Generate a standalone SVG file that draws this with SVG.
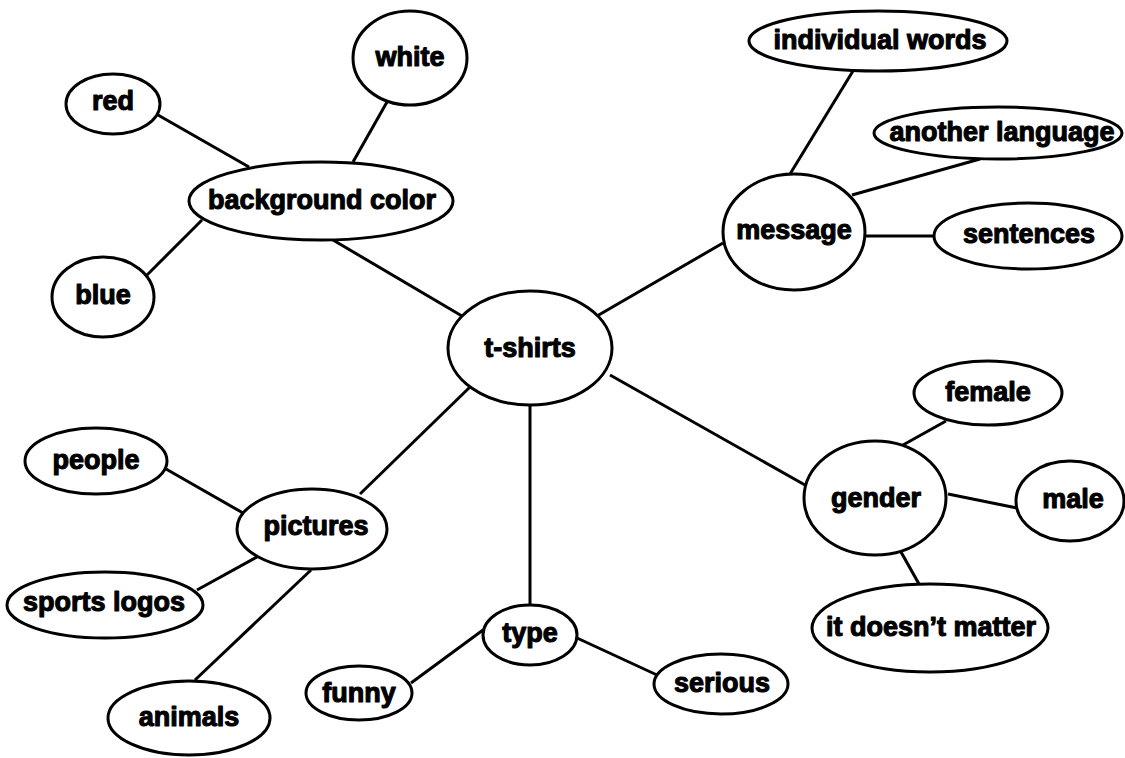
<svg xmlns="http://www.w3.org/2000/svg" width="1125" height="758" viewBox="0 0 1125 758">
<style>
ellipse{fill:#fff;stroke:#000;stroke-width:3}
line{stroke:#000;stroke-width:3}
text{font-family:"Liberation Sans",Arial,sans-serif;font-weight:bold;font-size:27px;text-anchor:middle;fill:#000;stroke:#000;stroke-width:1.1;stroke-linejoin:round}
</style>
<rect width="1125" height="758" fill="#fff"/>
<g id="connectors">
<line x1="158" y1="115" x2="249" y2="167"/>
<line x1="387" y1="102" x2="353" y2="162"/>
<line x1="147" y1="275" x2="202" y2="220"/>
<line x1="333" y1="240" x2="462" y2="316"/>
<line x1="853" y1="71" x2="790" y2="174"/>
<line x1="980" y1="159" x2="852" y2="195"/>
<line x1="865" y1="236" x2="934" y2="236"/>
<line x1="723" y1="243" x2="597" y2="316"/>
<line x1="166" y1="469" x2="243" y2="513"/>
<line x1="197" y1="590" x2="257" y2="557"/>
<line x1="195" y1="680" x2="311" y2="570"/>
<line x1="360" y1="494" x2="470" y2="387"/>
<line x1="530" y1="406" x2="530" y2="605"/>
<line x1="483" y1="630" x2="411" y2="683"/>
<line x1="577" y1="638" x2="657" y2="675"/>
<line x1="946" y1="421" x2="903" y2="445"/>
<line x1="1017" y1="508" x2="948" y2="494"/>
<line x1="919" y1="584" x2="901" y2="552"/>
<line x1="805" y1="485" x2="610" y2="375"/>
</g>
<g id="red"><ellipse cx="113" cy="104" rx="47" ry="30"/><text x="113" y="110">red</text></g>
<g id="white"><ellipse cx="410" cy="58" rx="57" ry="47"/><text x="410" y="66">white</text></g>
<g id="background-color"><ellipse cx="321" cy="201" rx="132" ry="39"/><text x="322" y="209">background color</text></g>
<g id="blue"><ellipse cx="103" cy="297" rx="51" ry="40"/><text x="103" y="304">blue</text></g>
<g id="individual-words"><ellipse cx="878" cy="41" rx="129" ry="30"/><text x="880" y="49">individual words</text></g>
<g id="another-language"><ellipse cx="998" cy="133" rx="124" ry="26"/><text x="1002" y="141">another language</text></g>
<g id="message"><ellipse cx="794" cy="232" rx="71" ry="58"/><text x="794" y="239">message</text></g>
<g id="sentences"><ellipse cx="1028" cy="236" rx="94" ry="33"/><text x="1029" y="243">sentences</text></g>
<g id="t-shirts"><ellipse cx="530" cy="348" rx="82" ry="57"/><text x="530" y="357">t-shirts</text></g>
<g id="people"><ellipse cx="96" cy="461" rx="71" ry="33"/><text x="96" y="469">people</text></g>
<g id="pictures"><ellipse cx="312" cy="529" rx="75" ry="40"/><text x="316" y="535">pictures</text></g>
<g id="sports-logos"><ellipse cx="105" cy="605" rx="98" ry="33"/><text x="104" y="611">sports logos</text></g>
<g id="animals"><ellipse cx="189" cy="718" rx="81" ry="37"/><text x="189" y="726">animals</text></g>
<g id="funny"><ellipse cx="359" cy="693" rx="53" ry="27"/><text x="359" y="702">funny</text></g>
<g id="type"><ellipse cx="530" cy="635" rx="47" ry="30"/><text x="530" y="642">type</text></g>
<g id="serious"><ellipse cx="721" cy="684" rx="67" ry="30"/><text x="722" y="692">serious</text></g>
<g id="female"><ellipse cx="988" cy="393" rx="74" ry="32"/><text x="988" y="401">female</text></g>
<g id="gender"><ellipse cx="875" cy="498" rx="71" ry="57"/><text x="876" y="507">gender</text></g>
<g id="male"><ellipse cx="1070" cy="501" rx="54" ry="40"/><text x="1073" y="508">male</text></g>
<g id="it-doesnt-matter"><ellipse cx="930" cy="628" rx="118" ry="44"/><text x="931" y="636">it doesn’t matter</text></g>
</svg>
